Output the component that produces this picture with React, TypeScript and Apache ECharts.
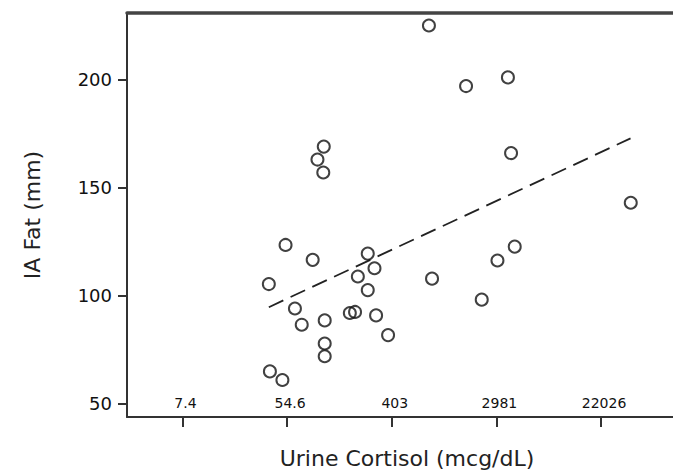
import React, { useEffect, useRef } from "react";
import * as echarts from "echarts";

// Urine cortisol (mcg/dL), plotted on a natural-log scale
const cortisol = [821, 1669, 3714, 3944, 38861, 110, 97.5, 109, 53, 89, 38.5, 255, 290, 211, 255, 871, 3041, 4230, 2252, 63.4, 72.2, 112, 181, 200, 299, 376, 112, 112, 39.3, 49.9];
// IA Fat (mm)
const iaFat = [225, 197, 201, 166, 143, 169, 163, 157, 123.5, 116.6, 105.4, 119.5, 112.7, 108.9, 102.6, 107.9, 116.3, 122.7, 98.2, 94.1, 86.6, 88.6, 92.0, 92.5, 90.9, 81.8, 77.9, 72.0, 65.0, 61.0];
// fitted regression line (dashed) endpoints
const fitCortisol = [38.5, 38700];
const fitFat = [94.7, 172.8];
// x tick positions (ln units) and labels
const xTickLn = [2, 4, 6, 8, 10];
const xTickLabels = ["7.4", "54.6", "403", "2981", "22026"];
const yTicks = [50, 100, 150, 200];

export default function App() {
  const ref = useRef<HTMLDivElement>(null);
  useEffect(() => {
    if (!ref.current) return;
    const chart = echarts.init(ref.current, undefined, { renderer: "svg" });
    const font = "DejaVu Sans";
    const pts = cortisol.map((c, i) => [Math.log(c), iaFat[i]]);
    const fit = fitCortisol.map((c, i) => [Math.log(c), fitFat[i]]);
    chart.setOption({
      animation: false,
      backgroundColor: "#ffffff",
      grid: { left: 127, right: 0, top: 13, bottom: 54, containLabel: false },
      xAxis: [
        {
          type: "value",
          min: 0.94,
          max: 11.375,
          position: "bottom",
          name: "Urine Cortisol (mcg/dL)",
          nameLocation: "middle",
          nameGap: 30,
          nameTextStyle: { fontFamily: font, fontSize: 22, color: "#222", padding: [0, 0, 0, 14] },
          axisLine: { show: true, onZero: false, lineStyle: { color: "#333", width: 2 } },
          axisTick: { show: true, inside: false, length: 10, lineStyle: { color: "#333", width: 2 }, customValues: xTickLn },
          axisLabel: {
            show: true,
            inside: true,
            margin: 7,
            fontFamily: font,
            fontSize: 14,
            color: "#111",
            padding: [0, 0, 0, 6],
            customValues: xTickLn,
            formatter: (v: number) => {
              const i = xTickLn.findIndex((t) => Math.abs(t - v) < 1e-6);
              return i >= 0 ? xTickLabels[i] : "";
            },
          },
          splitLine: { show: false },
        },
        {
          type: "value",
          min: 0.94,
          max: 11.375,
          position: "top",
          axisLine: { show: true, onZero: false, lineStyle: { color: "#444", width: 3.5 } },
          axisTick: { show: false },
          axisLabel: { show: false },
          splitLine: { show: false },
        },
      ],
      yAxis: {
        type: "value",
        min: 43.9,
        max: 230.8,
        name: "IA Fat (mm)",
        nameLocation: "middle",
        nameGap: 84,
        nameRotate: 90,
        nameTextStyle: { fontFamily: font, fontSize: 22, color: "#222" },
        axisLine: { show: true, onZero: false, lineStyle: { color: "#333", width: 2 } },
        axisTick: { show: true, inside: false, length: 9, lineStyle: { color: "#333", width: 2 }, customValues: yTicks },
        axisLabel: { show: true, margin: 15, fontFamily: font, fontSize: 18, color: "#111", customValues: yTicks },
        splitLine: { show: false },
      },
      series: [
        {
          type: "scatter",
          data: pts,
          symbol: "circle",
          symbolSize: 12,
          itemStyle: { color: "rgba(255,255,255,0)", borderColor: "#111", borderWidth: 2 },
          z: 3,
        },
        {
          type: "line",
          data: fit,
          symbol: "none",
          lineStyle: { color: "#222", width: 1.8, type: [16, 8] },
          z: 2,
        },
      ],
    });
    return () => chart.dispose();
  }, []);
  return (
    <div
      ref={ref}
      style={{ position: "absolute", left: 0, top: 0, width: 673, height: 474 }}
    />
  );
}
